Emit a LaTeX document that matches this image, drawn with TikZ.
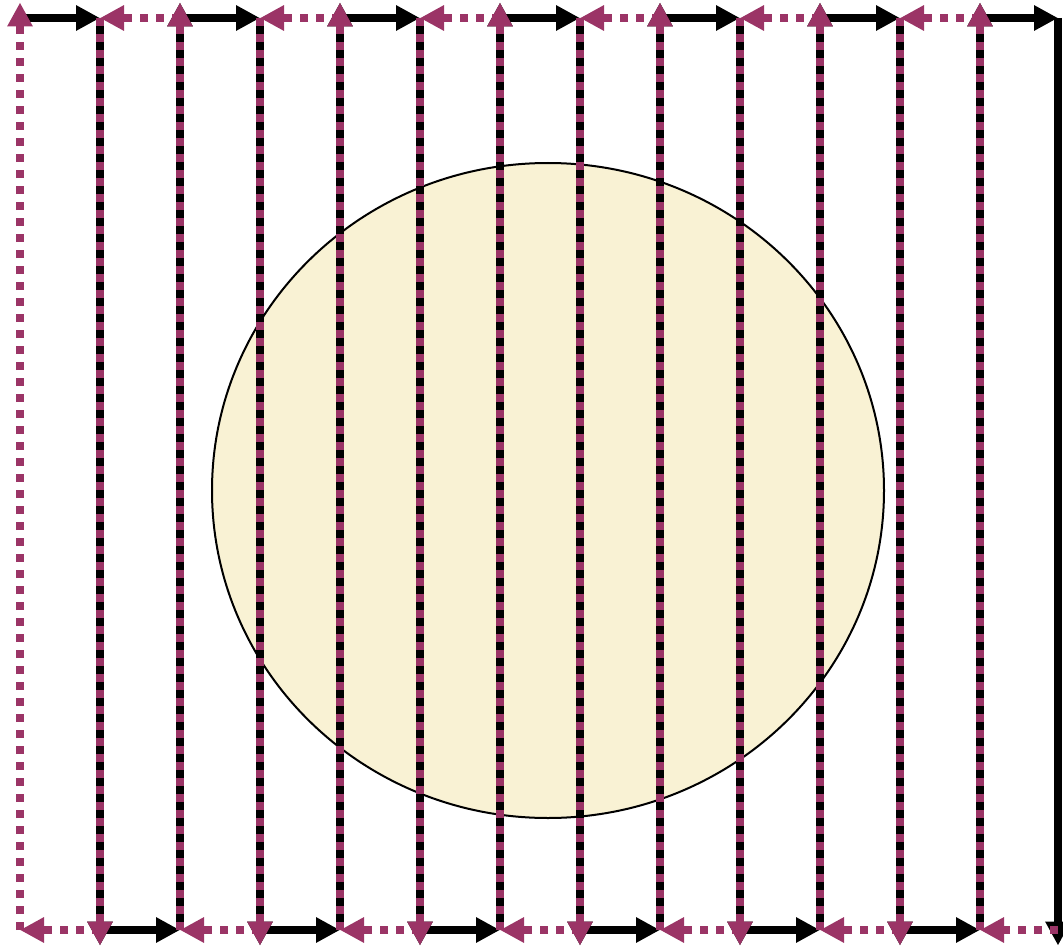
\documentclass[tikz,border=0pt]{standalone}
\usetikzlibrary{arrows.meta,shapes.geometric}
\definecolor{mag}{RGB}{155,52,102}
\definecolor{cream}{RGB}{249,242,212}
\begin{document}
\begin{tikzpicture}[x=1pt,y=-1pt,
  blk/.style={draw=black,line width=7.5pt,-{Triangle[length=24pt,width=24pt]}},
  mg/.style={draw=mag,line width=7.5pt,dash pattern=on 8pt off 8pt,-{Triangle[length=24pt,width=24pt]}},
  vert/.style={shorten >=-15.5pt},
  disc/.style={ellipse,draw=black,line width=2pt,fill=cream,inner sep=0pt,minimum width=672pt,minimum height=655pt}]
\useasboundingbox (0,0) rectangle (1063,947);
\node[disc] (c) at (548,490.5) {};
\foreach \i/\x in {0/20,1/100,2/180,3/260,4/340,5/420,6/500,7/580,8/660,9/740,10/820,11/900,12/980,13/1058}{
  \coordinate (t\i) at (\x,18);
  \coordinate (b\i) at (\x,930);
}
% black path
\draw[blk] (t0) -- (t1);
\foreach \k [evaluate=\k as \kp using int(\k+1), evaluate=\k as \kq using int(\k+2)] in {1,3,...,11}{
  \draw[blk,vert] (t\k) -- (b\k);
  \draw[blk] (b\k) -- (b\kp);
  \draw[blk,vert] (b\kp) -- (t\kp);
  \draw[blk] (t\kp) -- (t\kq);
}
\draw[blk,vert] (t13) -- (b13);
% magenta path
\foreach \k [evaluate=\k as \kp using int(\k+1), evaluate=\k as \km using int(\k-1)] in {12,10,...,2}{
  \draw[mg] (b\kp) -- (b\k);
  \draw[mg,vert] (b\k) -- (t\k);
  \draw[mg] (t\k) -- (t\km);
  \draw[mg,vert] (t\km) -- (b\km);
}
\draw[mg] (b1) -- (b0);
\draw[mg,vert] (b0) -- (t0);
\end{tikzpicture}
\end{document}
